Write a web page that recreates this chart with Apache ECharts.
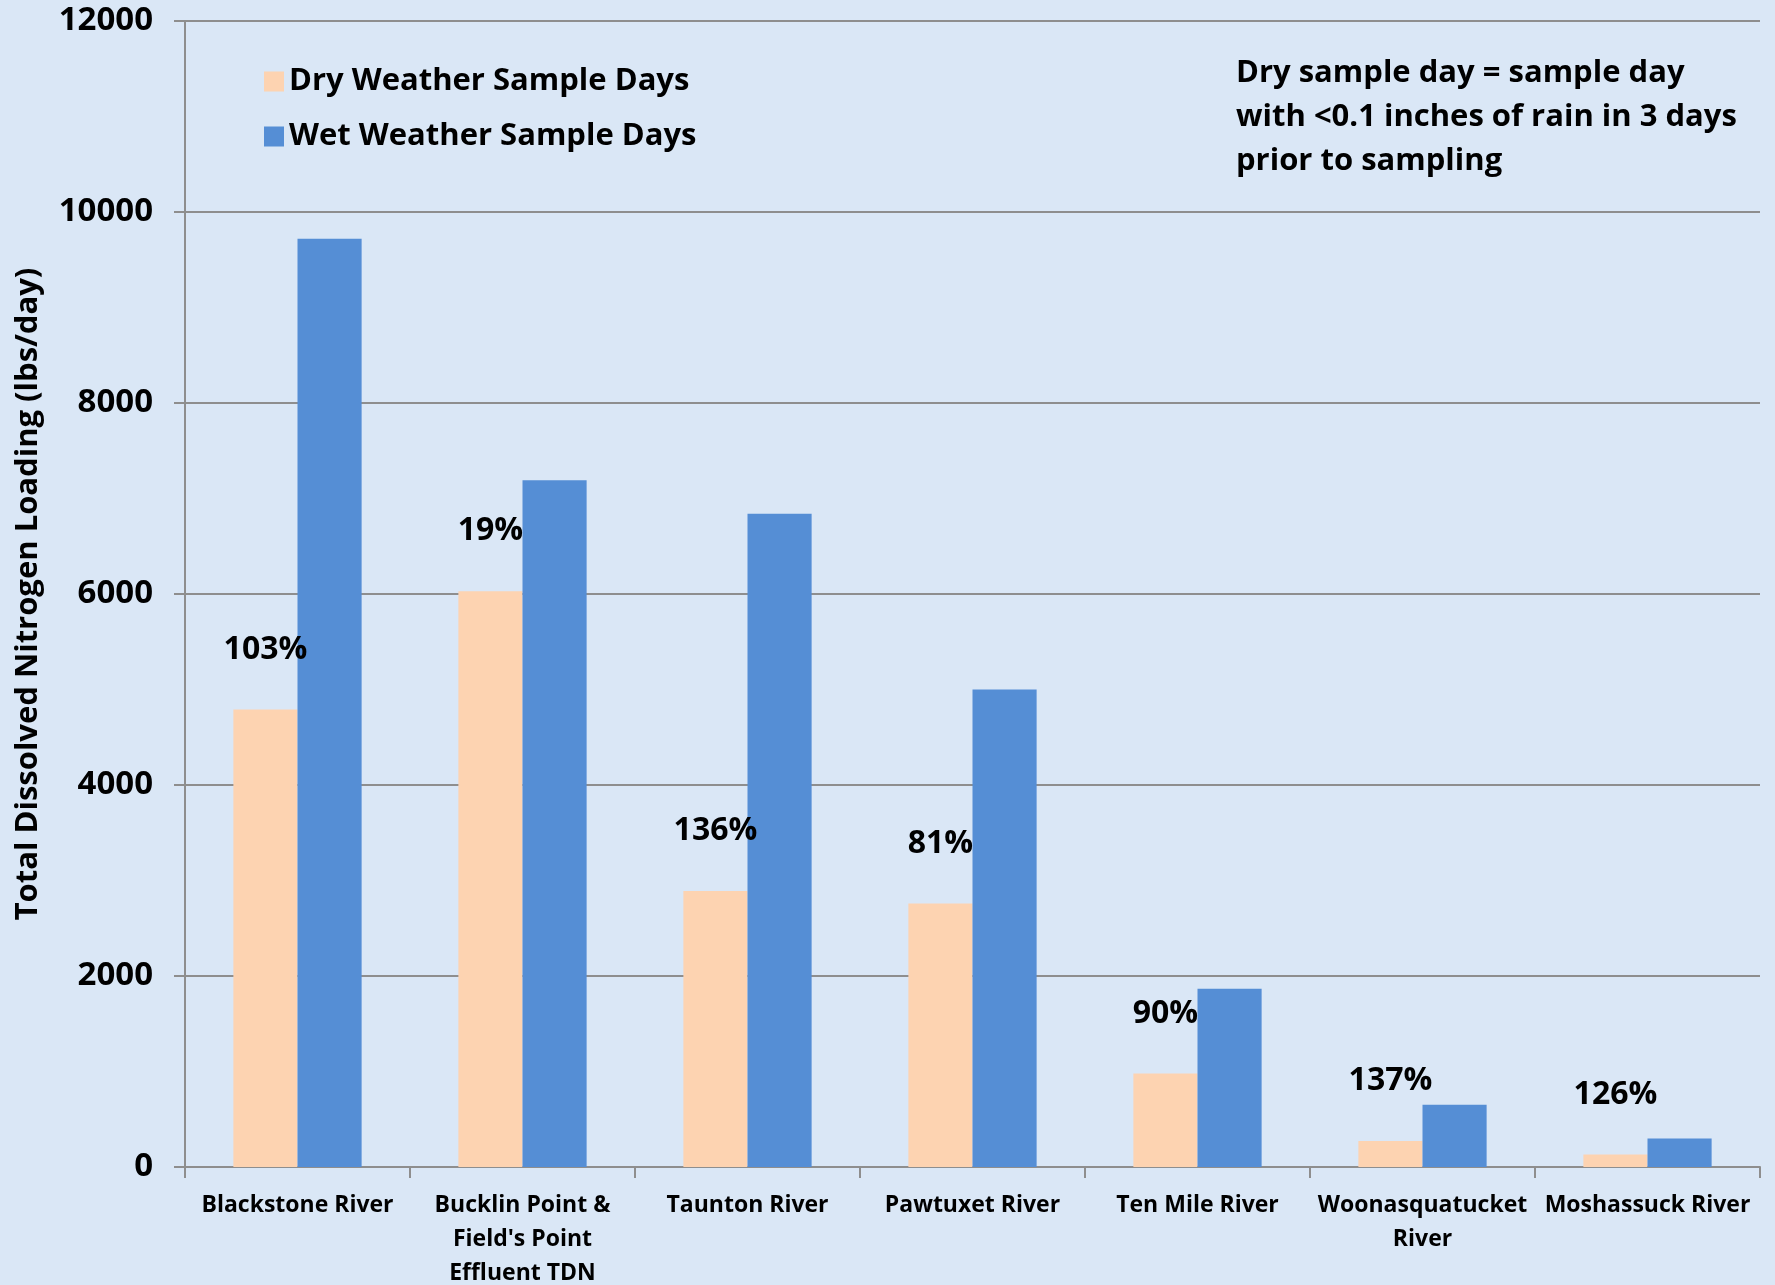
<!DOCTYPE html>
<html>
<head>
<meta charset="utf-8">
<script src="https://cdn.jsdelivr.net/npm/echarts@6/dist/echarts.min.js"></script>
<style>
html,body{margin:0;padding:0;background:#dae7f6;}
#chart{width:1775px;height:1285px;}
</style>
</head>
<body>
<div id="chart"></div>
<script>
const categories = ['Blackstone River', 'Bucklin Point &\nField\'s Point\nEffluent TDN', 'Taunton River', 'Pawtuxet River', 'Ten Mile River', 'Woonasquatucket\nRiver', 'Moshassuck River'];
const dryValues = [4790, 6030, 2890, 2760, 980, 272, 132];
const wetValues = [9720, 7190, 6840, 5000, 1866, 652, 298];
const pctLabels = ['103%', '19%', '136%', '81%', '90%', '137%', '126%'];
const yTicks = [0, 2000, 4000, 6000, 8000, 10000, 12000];
const seriesNames = ['Dry Weather Sample Days', 'Wet Weather Sample Days'];
const noteLines = ['Dry sample day = sample day', 'with <0.1 inches of rain in 3 days', 'prior to sampling'];

const FONT = '"Open Sans"';
const chart = echarts.init(document.getElementById('chart'), null, {renderer: 'canvas'});
const gridColor = '#8e8e8e';

chart.setOption({
  backgroundColor: '#dae7f6',
  animation: false,
  textStyle: {fontFamily: FONT, fontWeight: 'bold', color: '#000'},
  grid: {left: 185, right: 15, top: 21, bottom: 118, containLabel: false, outerBoundsMode: 'none'},
  legend: {
    orient: 'vertical',
    left: 259,
    top: 59,
    icon: 'rect',
    itemWidth: 20,
    itemHeight: 20,
    itemGap: 20,
    textStyle: {fontFamily: FONT, fontWeight: 'bold', fontSize: 31, color: '#000', lineHeight: 35},
    data: seriesNames
  },
  graphic: [{
    type: 'text',
    left: 1236,
    top: 51,
    style: {
      text: noteLines.join('\n'),
      fontFamily: FONT,
      fontWeight: 'bold',
      fontSize: 31,
      lineHeight: 44,
      fill: '#000'
    }
  }],
  xAxis: {
    type: 'category',
    data: categories,
    axisLine: {show: true, lineStyle: {color: gridColor, width: 2}},
    axisTick: {show: true, length: 11, lineStyle: {color: gridColor, width: 2}},
    axisLabel: {
      interval: 0,
      margin: 21,
      fontFamily: FONT,
      fontWeight: 'bold',
      fontSize: 23,
      lineHeight: 34,
      color: '#000'
    }
  },
  yAxis: {
    type: 'value',
    min: yTicks[0],
    max: yTicks[yTicks.length - 1],
    interval: 2000,
    name: 'Total Dissolved Nitrogen Loading (lbs/day)',
    nameLocation: 'middle',
    nameGap: 141,
    nameRotate: 90,
    nameTextStyle: {fontFamily: FONT, fontWeight: 'bold', fontSize: 31, color: '#000'},
    axisLine: {show: true, lineStyle: {color: gridColor, width: 2}},
    axisTick: {show: true, length: 11, lineStyle: {color: gridColor, width: 2}},
    splitLine: {show: true, lineStyle: {color: gridColor, width: 2}},
    axisLabel: {
      margin: 32,
      fontFamily: FONT,
      fontWeight: 'bold',
      fontSize: 33,
      color: '#000',
      formatter: v => String(v)
    }
  },
  series: [{
    name: seriesNames[0],
    type: 'bar',
    data: dryValues,
    barWidth: '28.5%',
    barGap: '0%',
    itemStyle: {color: '#fdd3b1'},
    label: {
      show: true,
      position: 'top',
      distance: 44,
      formatter: p => pctLabels[p.dataIndex],
      fontFamily: FONT,
      fontWeight: 'bold',
      fontSize: 32,
      color: '#000'
    }
  }, {
    name: seriesNames[1],
    type: 'bar',
    data: wetValues,
    barWidth: '28.5%',
    barGap: '0%',
    itemStyle: {color: '#558ed5'}
  }]
});
</script>
</body>
</html>
